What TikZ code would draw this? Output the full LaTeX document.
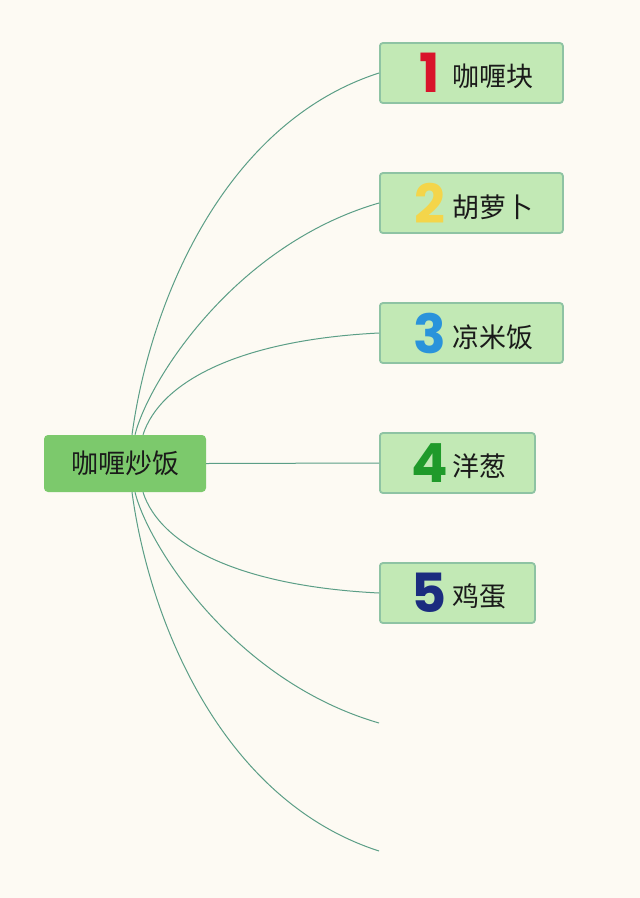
\documentclass[tikz,border=0pt]{standalone}
\usepackage{fontspec}
\usepackage{xcolor}
\setmainfont{Liberation Sans}
\newfontfamily\cjk{Noto Sans CJK SC}
\newfontfamily\numfont{Poppins}
\usetikzlibrary{positioning}

\definecolor{paper}{HTML}{FDFAF3}
\definecolor{rootgreen}{HTML}{7CC96C}
\definecolor{itemgreen}{HTML}{C2E9B5}
\definecolor{itemedge}{HTML}{8EC3A3}
\definecolor{linkteal}{HTML}{5B9E86}
\definecolor{ink}{HTML}{1A1A1A}
\definecolor{numred}{HTML}{D9142B}
\definecolor{numyellow}{HTML}{F4D54A}
\definecolor{numblue}{HTML}{2A93DB}
\definecolor{numgreen}{HTML}{1F9A2A}
\definecolor{numnavy}{HTML}{1B2C7F}

\newcommand{\bignum}[2]{\makebox[42pt][c]{\raisebox{-6pt}{\numfont\fontsize{54}{54}\selectfont\bfseries\color{#1}#2}}\hspace{2pt}}

\begin{document}
\begin{tikzpicture}[
  x=1pt, y=-1pt,
  root/.style={rectangle, rounded corners=4pt, fill=rootgreen, minimum width=162pt, minimum height=57pt, text=ink, font=\cjk\fontsize{27}{27}\selectfont},
  item/.style={rectangle, rounded corners=3pt, draw=itemedge, line width=1.8pt, fill=itemgreen, minimum height=60pt, anchor=west, text=ink, font=\cjk\fontsize{27}{27}\selectfont},
  branch/.style={draw=linkteal, line width=1pt}
]
\useasboundingbox[fill=paper] (0,0) rectangle (640,898);

% centre topic
\node[root] (root) at (125,463.5) {咖喱炒饭};

% ingredients
\node[item, minimum width=183pt] (b1) at (379,73) {\bignum{numred}{1}咖喱块};
\node[item, minimum width=183pt] (b2) at (379,203) {\bignum{numyellow}{2}胡萝卜};
\node[item, minimum width=183pt] (b3) at (379,333) {\bignum{numblue}{3}凉米饭};
\node[item, minimum width=155pt] (b4) at (379,463) {\bignum{numgreen}{4}洋葱};
\node[item, minimum width=155pt] (b5) at (379,593) {\bignum{numnavy}{5}鸡蛋};
\coordinate (e6) at (379,723);
\coordinate (e7) at (379,851);

% branches
\draw[branch] ([xshift=7pt]root.north) .. controls +(18,-133) and +(-155,50) .. (b1.west);
\draw[branch] ([xshift=10pt]root.north) .. controls +(13,-53) and +(-145,42) .. (b2.west);
\draw[branch] ([xshift=18pt]root.north) .. controls +(17,-53) and +(-140,7) .. (b3.west);
\draw[branch] (root.east) -- (b4.west);
\draw[branch] ([xshift=18pt]root.south) .. controls +(17,53) and +(-140,-7) .. (b5.west);
\draw[branch] ([xshift=10pt]root.south) .. controls +(13,53) and +(-145,-42) .. (e6);
\draw[branch] ([xshift=7pt]root.south) .. controls +(18,133) and +(-155,-50) .. (e7);

\end{tikzpicture}
\end{document}
